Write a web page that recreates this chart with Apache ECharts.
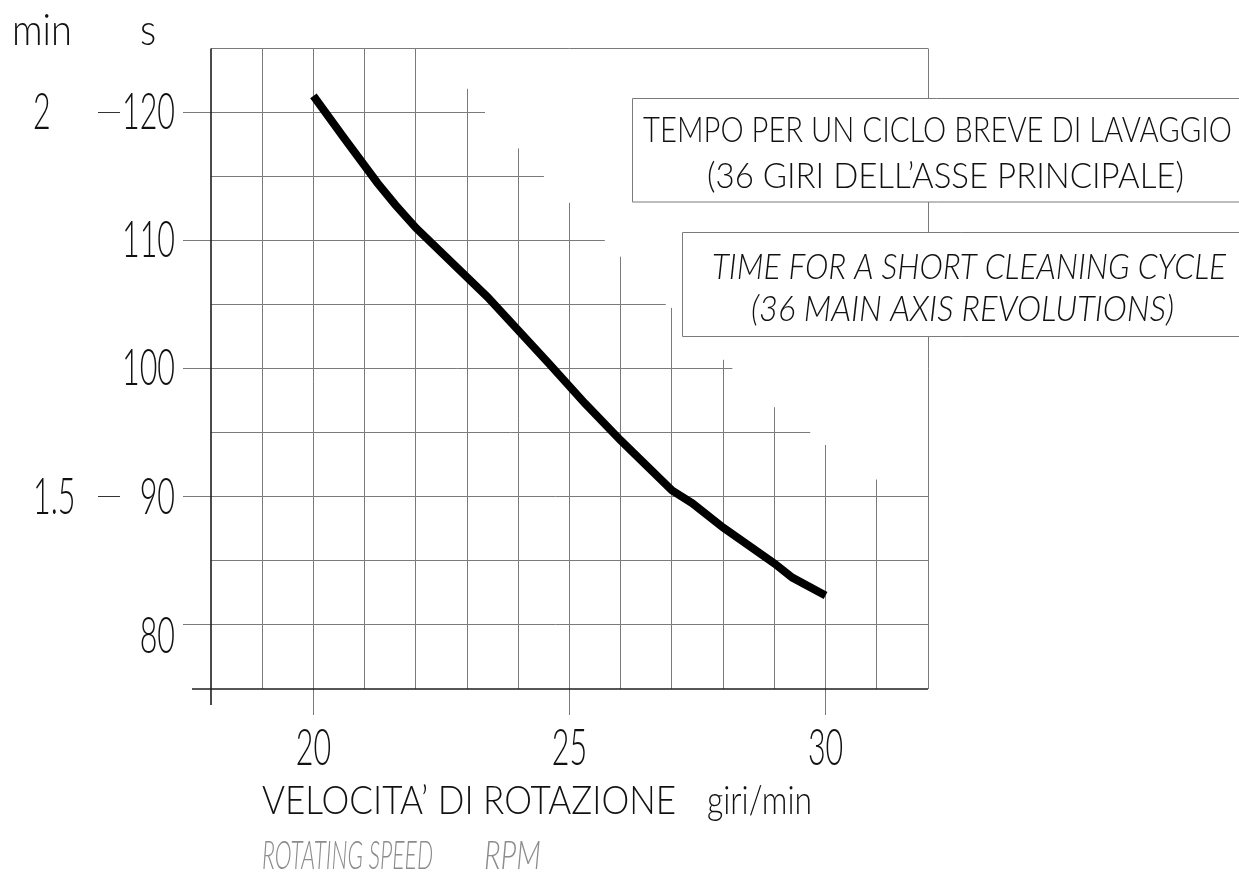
<!DOCTYPE html>
<html><head><meta charset="utf-8">
<script src="https://cdn.jsdelivr.net/npm/echarts@6/dist/echarts.min.js"></script>
<style>html,body{margin:0;padding:0;background:#fff}#c{width:1239px;height:875px}</style>
</head><body><div id="c"></div>
<script>
// ---------------- data ----------------
const speedRpm      = [20.0, 20.6, 21.25, 21.6, 22.0, 23.4, 24.6, 25.3, 26.0, 27.0, 27.4, 28.0, 29.0, 29.35, 30.0];
const cycleSeconds  = [121.3, 118.0, 114.5, 112.8, 111.0, 105.6, 100.4, 97.3, 94.4, 90.5, 89.5, 87.6, 84.8, 83.7, 82.3];
const xRange = [18, 32];
const yRange = [75, 125];
const xTickValues = [20, 25, 30];
const yTickValues = [80, 90, 100, 110, 120];
const minuteTicks = [2, 1.5];
// staircase grid (as drawn in the original sheet)
const vGridX   = [19, 20, 21, 22, 23, 24, 25, 26, 27, 28, 29, 30, 31, 32];
const vGridTop = [125, 125, 125, 125, 121.85, 117.2, 112.95, 108.75, 104.75, 100.7, 97.0, 94.05, 91.35, 125];
const hGridY   = [80, 85, 90, 95, 100, 105, 110, 115, 120, 125];
const hGridEnd = [32, 32, 32, 29.7, 28.18, 26.88, 25.69, 24.5, 23.35, 32];
const titleIt = ['TEMPO PER UN CICLO BREVE DI LAVAGGIO', '(36 GIRI DELL\u2019ASSE PRINCIPALE)'];
const titleEn = ['TIME FOR A SHORT CLEANING CYCLE', '(36 MAIN AXIS REVOLUTIONS)'];
const xNameIt = ['VELOCITA\u2019 DI ROTAZIONE', 'giri/min'];
const xNameEn = ['ROTATING SPEED', 'RPM'];
const yUnits  = ['min', 's'];

// ---------------- text helpers ----------------
const FONT = 'Lato', WEIGHT = 300, CAP = 0.7165, XH = 0.5065;
const GRID = '#7a7a7a', AXIS = '#1e1e1e', INK = '#111';
const mctx = document.createElement('canvas').getContext('2d');
function textW(s, size, italic) {
  mctx.font = (italic ? 'italic ' : 'normal ') + WEIGHT + ' ' + size + 'px ' + FONT;
  return mctx.measureText(s).width;
}
function tstyle(s, size, italic, color, align) {
  return {text: s, fontFamily: FONT, fontSize: size, fontWeight: WEIGHT,
    fontStyle: italic ? 'italic' : 'normal', fill: color || INK,
    align: align || 'left', textAlign: align || 'left',
    verticalAlign: 'middle', textVerticalAlign: 'middle'};
}
function fitted(s, left, right, cy, size, italic, color) {
  const sx = (right - left) / textW(s, size, italic);
  return {type: 'text', x: left, y: cy, scaleX: sx, scaleY: 1, z: 60, silent: true,
    style: tstyle(s, size, italic, color, 'left')};
}
const DIGIT = 37 / CAP;
const digitSX = 53 / textW('120', DIGIT, false);
const crisp = v => Math.round(v - 0.5) + 0.5;

// ---------------- series ----------------
const vGridData = vGridX.map((x, i) => [x, vGridTop[i]]);
const hGridData = hGridY.map((y, i) => [hGridEnd[i], y]);

const option = {
  animation: false,
  backgroundColor: '#fff',
  grid: {left: 211, right: 311, top: 48.5, bottom: 186},
  xAxis: {type: 'value', min: xRange[0], max: xRange[1], interval: 1,
    axisLine: {show: false}, axisTick: {show: false}, axisLabel: {show: false}, splitLine: {show: false}},
  yAxis: {type: 'value', min: yRange[0], max: yRange[1], interval: 5,
    axisLine: {show: false}, axisTick: {show: false}, axisLabel: {show: false}, splitLine: {show: false}},
  series: [
    { // vertical grid lines (partial heights)
      type: 'custom', silent: true, clip: false, z: 1, data: vGridData,
      renderItem(p, api) {
        const x = api.value(0), top = api.value(1);
        const a = api.coord([x, yRange[0]]), b = api.coord([x, top]);
        const ext = xTickValues.indexOf(x) >= 0 ? 26 : 0;
        const cx = crisp(a[0]);
        return {type: 'line', shape: {x1: cx, y1: a[1] + ext, x2: cx, y2: b[1]},
          style: {stroke: GRID, lineWidth: 1}};
      }
    },
    { // horizontal grid lines (partial widths)
      type: 'custom', silent: true, clip: false, z: 1, data: hGridData,
      renderItem(p, api) {
        const end = api.value(0), y = api.value(1);
        const a = api.coord([xRange[0], y]), b = api.coord([end, y]);
        const ext = yTickValues.indexOf(y) >= 0 ? 28 : 0;
        const cy = crisp(a[1]);
        return {type: 'line', shape: {x1: a[0] - ext, y1: cy, x2: b[0], y2: cy},
          style: {stroke: GRID, lineWidth: 1}};
      }
    },
    { // main axes
      type: 'custom', silent: true, clip: false, z: 2, data: [[xRange[0], yRange[0]]],
      renderItem(p, api) {
        const o = api.coord([xRange[0], yRange[0]]);
        const t = api.coord([xRange[0], yRange[1]]);
        const r = api.coord([xRange[1], yRange[0]]);
        const ox = Math.round(o[0]), oy = Math.round(o[1]);
        return {type: 'group', children: [
          {type: 'line', shape: {x1: ox, y1: t[1], x2: ox, y2: oy + 16}, style: {stroke: AXIS, lineWidth: 1.6}},
          {type: 'line', shape: {x1: ox - 19, y1: oy, x2: r[0], y2: oy}, style: {stroke: AXIS, lineWidth: 1.6}}
        ]};
      }
    },
    { // x tick labels
      type: 'custom', silent: true, clip: false, z: 3, data: xTickValues.map(v => [v, yRange[0]]),
      renderItem(p, api) {
        const a = api.coord([api.value(0), api.value(1)]);
        return {type: 'text', x: a[0], y: a[1] + 59, scaleX: digitSX, scaleY: 1,
          style: tstyle(String(api.value(0)), DIGIT, false, INK, 'center')};
      }
    },
    { // y tick labels (seconds)
      type: 'custom', silent: true, clip: false, z: 3, data: yTickValues.map(v => [xRange[0], v]),
      renderItem(p, api) {
        const v = api.value(1);
        const a = api.coord([api.value(0), v]);
        return {type: 'text', x: a[0] - 36, y: a[1] + (v === yTickValues[0] ? 11 : 0), scaleX: digitSX, scaleY: 1,
          style: tstyle(String(v), DIGIT, false, INK, 'right')};
      }
    },
    { // minute scale: labels + dashes
      type: 'custom', silent: true, clip: false, z: 3, data: minuteTicks.map(m => [xRange[0], m * 60, m]),
      renderItem(p, api) {
        const a = api.coord([api.value(0), api.value(1)]);
        const cy = crisp(a[1]);
        return {type: 'group', children: [
          {type: 'text', x: 33, y: a[1], scaleX: digitSX, scaleY: 1,
            style: tstyle(String(api.value(2)), DIGIT, false, INK, 'left')},
          {type: 'line', shape: {x1: a[0] - 113, y1: cy, x2: a[0] - 91, y2: cy},
            style: {stroke: '#333', lineWidth: 1}}
        ]};
      }
    },
    { // the curve
      type: 'line', z: 5, silent: true, showSymbol: false, symbol: 'none',
      data: speedRpm.map((x, i) => [x, cycleSeconds[i]]),
      lineStyle: {color: '#000', width: 8, cap: 'butt', join: 'miter'}
    }
  ],
  graphic: []
};

const chart = echarts.init(document.getElementById('c'));
chart.setOption(option);

const TSIZE = 26 / CAP;
const ASIZE = 27.5 / CAP;
const USIZE = 22 / XH;
const uSX = 60 / textW(yUnits[0], USIZE, false);
const g = [
  {type: 'rect', z: 50, silent: true, shape: {x: 632.5, y: 98.5, width: 700, height: 103.5},
    style: {fill: '#fff', stroke: GRID, lineWidth: 1}},
  {type: 'rect', z: 50, silent: true, shape: {x: 682.5, y: 232.5, width: 700, height: 104},
    style: {fill: '#fff', stroke: GRID, lineWidth: 1}},
  fitted(titleIt[0], 643, 1232, 130, TSIZE, false),
  fitted(titleIt[1], 707, 1184, 176, TSIZE, false),
  fitted(titleEn[0], 712, 1226, 267, TSIZE, true),
  fitted(titleEn[1], 751, 1174, 309, TSIZE, true),
  fitted(xNameIt[0], 262, 676, 802, ASIZE, false),
  fitted(xNameIt[1], 707, 812, 802, ASIZE, false),
  fitted(xNameEn[0], 262, 433, 857, ASIZE, true, '#8c8c8c'),
  fitted(xNameEn[1], 484, 541, 857, ASIZE, true, '#8c8c8c'),
  {type: 'text', x: 12, y: 31, scaleX: uSX, scaleY: 1, z: 60, silent: true, style: tstyle(yUnits[0], USIZE, false, INK, 'left')},
  {type: 'text', x: 140, y: 31, scaleX: uSX, scaleY: 1, z: 60, silent: true, style: tstyle(yUnits[1], USIZE, false, INK, 'left')}
];
chart.setOption({graphic: g});
</script>
</body></html>
